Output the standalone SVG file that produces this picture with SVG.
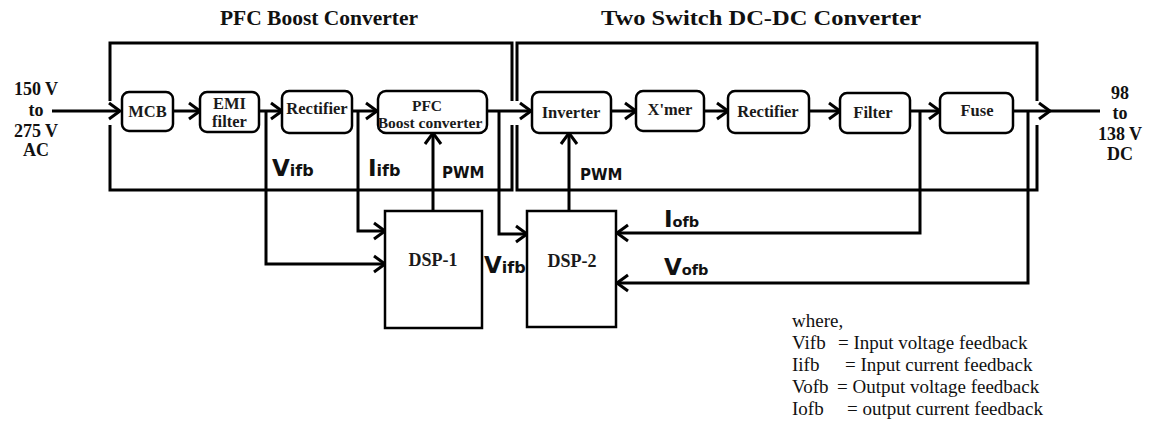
<svg xmlns="http://www.w3.org/2000/svg" width="1155" height="421" viewBox="0 0 1155 421">
<style>
.ln{fill:none;stroke:#000;stroke-width:3}
.bx{fill:#fff;stroke:#000;stroke-width:2.5}
.fr{fill:none;stroke:#000;stroke-width:3}
.bt{font-family:"Liberation Serif","Times New Roman",serif;font-weight:bold;font-size:16.5px;text-anchor:middle;fill:#1a1a1a}
.bp{font-family:"Liberation Serif","Times New Roman",serif;font-weight:bold;font-size:15.5px;text-anchor:middle;fill:#1a1a1a}
.ds{font-family:"Liberation Serif","Times New Roman",serif;font-weight:bold;font-size:18px;text-anchor:middle;fill:#1a1a1a}
.tt{font-family:"Liberation Serif","Times New Roman",serif;font-weight:bold;font-size:21px;text-anchor:middle;fill:#111}
.io{font-family:"Liberation Serif","Times New Roman",serif;font-weight:bold;font-size:18px;text-anchor:middle;fill:#111}
.sl{font-family:"DejaVu Sans",sans-serif;font-weight:bold;fill:#111}
.big{font-size:23px}
.sm{font-size:16px}
.so{font-size:14.5px}
.pwm{font-family:"DejaVu Sans",sans-serif;font-weight:bold;font-size:15px;fill:#111}
.lg{font-family:"Liberation Serif","Times New Roman",serif;font-size:19px;fill:#111}
</style>
<defs>
<marker id="ar" markerUnits="userSpaceOnUse" markerWidth="16" markerHeight="20" refX="13" refY="10" orient="auto" overflow="visible">
<path d="M2,2 L13,10 L2,18" fill="none" stroke="#000" stroke-width="3"/>
</marker>
</defs>
<rect width="1155" height="421" fill="#fff"/>

<g id="titles">
<text class="tt" x="319" y="25" textLength="198" lengthAdjust="spacingAndGlyphs">PFC Boost Converter</text>
<text class="tt" x="761" y="25" textLength="320" lengthAdjust="spacingAndGlyphs">Two Switch DC-DC Converter</text>
</g>

<g id="frames">
<path class="fr" d="M110,101 V43 H512 V101 M110,125 V190 H512 V125"/>
<path class="fr" d="M517,101 V43 H1037 V101 M517,125 V190 H1037 V125"/>
</g>

<g id="connectors">
<path class="ln" d="M52,111 H120" marker-end="url(#ar)"/>
<path class="ln" d="M173,111 H200" marker-end="url(#ar)"/>
<path class="ln" d="M259,111 H282" marker-end="url(#ar)"/>
<path class="ln" d="M352,111 H377" marker-end="url(#ar)"/>
<path class="ln" d="M487,111 H531" marker-end="url(#ar)"/>
<path class="ln" d="M611,111 H636" marker-end="url(#ar)"/>
<path class="ln" d="M704,111 H728" marker-end="url(#ar)"/>
<path class="ln" d="M809,111 H840" marker-end="url(#ar)"/>
<path class="ln" d="M910,111 H940" marker-end="url(#ar)"/>
<path class="ln" d="M1013,111 H1050" marker-end="url(#ar)"/>
<path class="ln" d="M1048,111 H1100"/>
<path class="ln" d="M266,111 V264 H385" marker-end="url(#ar)"/>
<path class="ln" d="M358,111 V231 H385" marker-end="url(#ar)"/>
<path class="ln" d="M433,211 V133" marker-end="url(#ar)"/>
<path class="ln" d="M499,111 V234 H527" marker-end="url(#ar)"/>
<path class="ln" d="M569,211 V133" marker-end="url(#ar)"/>
<path class="ln" d="M920,111 V233 H617" marker-end="url(#ar)"/>
<path class="ln" d="M1028,111 V283 H617" marker-end="url(#ar)"/>
</g>

<g id="mcb"><rect class="bx" x="122" y="92" width="51" height="39" rx="7"/><text class="bt" x="147.5" y="117">MCB</text></g>
<g id="emi"><rect class="bx" x="200" y="92" width="59" height="40" rx="7"/><text class="bt" x="229.5" y="109">EMI</text><text class="bt" x="229.5" y="127">filter</text></g>
<g id="rectifier1"><rect class="bx" x="282" y="91" width="70" height="42" rx="7"/><text class="bt" x="317" y="114">Rectifier</text></g>
<g id="pfc"><rect class="bx" x="378" y="91" width="109" height="42" rx="8"/><text class="bp" x="427" y="111">PFC</text><text class="bp" x="430" y="128">Boost converter</text></g>
<g id="inverter"><rect class="bx" x="532" y="92" width="79" height="41" rx="7"/><text class="bt" x="571" y="118">Inverter</text></g>
<g id="xmer"><rect class="bx" x="636" y="91" width="68" height="40" rx="7"/><text class="bt" x="670" y="115">X'mer</text></g>
<g id="rectifier2"><rect class="bx" x="728" y="91" width="81" height="42" rx="7"/><text class="bt" x="768" y="117">Rectifier</text></g>
<g id="filter"><rect class="bx" x="840" y="93" width="70" height="40" rx="7"/><text class="bt" x="873" y="118">Filter</text></g>
<g id="fuse"><rect class="bx" x="940" y="93" width="73" height="40" rx="7"/><text class="bt" x="977" y="116">Fuse</text></g>

<g id="dsp1"><rect class="bx" x="385" y="211" width="97" height="117"/><text class="ds" x="433" y="266">DSP-1</text></g>
<g id="dsp2"><rect class="bx" x="527" y="211" width="89" height="116"/><text class="ds" x="572" y="267">DSP-2</text></g>

<g id="input">
<text class="io" x="36" y="95">150 V</text>
<text class="io" x="36" y="116">to</text>
<text class="io" x="36" y="137">275 V</text>
<text class="io" x="36" y="156">AC</text>
</g>
<g id="output">
<text class="io" x="1120" y="99">98</text>
<text class="io" x="1120" y="119">to</text>
<text class="io" x="1120" y="140">138 V</text>
<text class="io" x="1120" y="160">DC</text>
</g>

<g id="labels">
<text class="sl" x="272" y="176"><tspan class="big">V</tspan><tspan class="sm">ifb</tspan></text>
<text class="sl" x="368" y="176"><tspan class="big">I</tspan><tspan class="sm">ifb</tspan></text>
<text class="pwm" x="442" y="178">PWM</text>
<text class="pwm" x="580" y="180">PWM</text>
<text class="sl" x="484" y="273"><tspan class="big">V</tspan><tspan class="sm">ifb</tspan></text>
<text class="sl" x="664" y="227"><tspan class="big">I</tspan><tspan class="so">ofb</tspan></text>
<text class="sl" x="664" y="275"><tspan class="big">V</tspan><tspan class="so">ofb</tspan></text>
</g>

<g id="legend">
<text class="lg" x="792" y="327">where,</text>
<text class="lg" y="349"><tspan x="792">Vifb</tspan><tspan x="838">= Input voltage feedback</tspan></text>
<text class="lg" y="371"><tspan x="792">Iifb</tspan><tspan x="845">= Input current feedback</tspan></text>
<text class="lg" y="393"><tspan x="792">Vofb</tspan><tspan x="837">= Output voltage feedback</tspan></text>
<text class="lg" y="415"><tspan x="792">Iofb</tspan><tspan x="847">= output current feedback</tspan></text>
</g>
</svg>
